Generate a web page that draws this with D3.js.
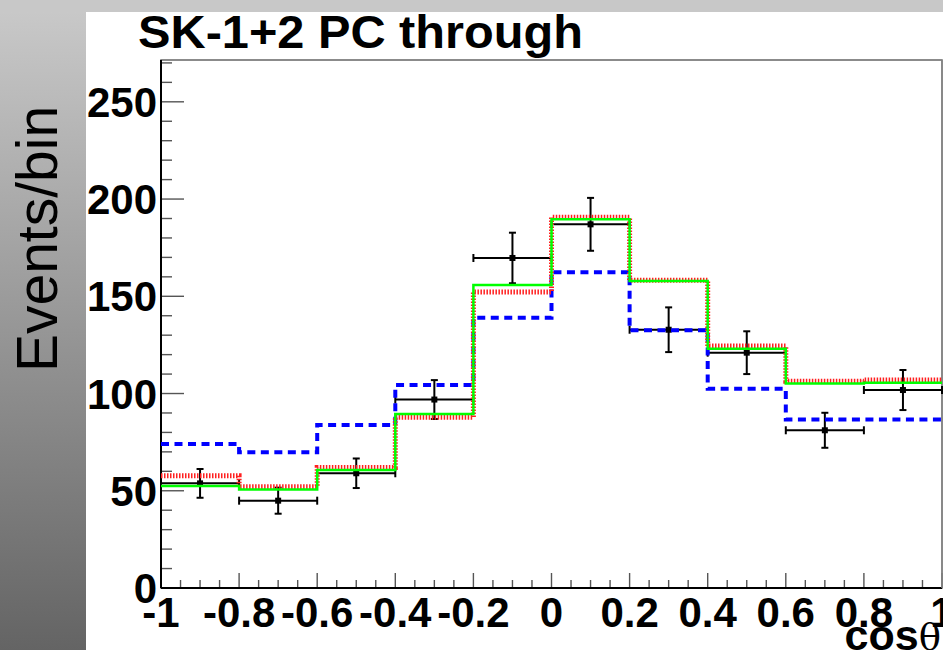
<!DOCTYPE html>
<html><head><meta charset="utf-8">
<script src="https://cdn.jsdelivr.net/npm/d3@7/dist/d3.min.js"></script>
<style>
html,body{margin:0;padding:0;background:#fff;overflow:hidden;}
svg{display:block;}
</style></head>
<body>
<svg id="chart" width="943" height="650"></svg>
<script>
// ---- data ----
const binEdges = [-1, -0.8, -0.6, -0.4, -0.2, 0, 0.2, 0.4, 0.6, 0.8, 1];
const binCenters = [-0.9, -0.7, -0.5, -0.3, -0.1, 0.1, 0.3, 0.5, 0.7, 0.9];
const dataValues = [53.8, 44.9, 59.0, 96.9, 169.7, 187.0, 132.8, 121.0, 81.1, 101.8];
const dataErrors = [7.4, 6.7, 7.6, 10.0, 13.0, 13.6, 11.5, 11.0, 9.0, 10.3];
const redValues = [57.7, 52.1, 62.0, 87.8, 152.2, 190.6, 158.3, 124.4, 106.3, 106.9];
const greenValues = [52.4, 50.7, 60.7, 89.5, 155.8, 189.6, 157.8, 123.0, 105.2, 105.6];
const blueValues = [74.0, 69.8, 83.8, 104.4, 139.0, 162.3, 132.5, 102.5, 86.7, 86.7];
const xTickValues = [-1, -0.8, -0.6, -0.4, -0.2, 0, 0.2, 0.4, 0.6, 0.8, 1];
const xTickLabels = ["-1", "-0.8", "-0.6", "-0.4", "-0.2", "0", "0.2", "0.4", "0.6", "0.8", "1"];
const yTickValues = [0, 50, 100, 150, 200, 250];
const yTickLabels = ["0", "50", "100", "150", "200", "250"];
const titleText = "SK-1+2 PC through";
const yTitle = "Events/bin";

(function () {
// ---- layout ----
const svg = d3.select("#chart");
const W = 943, H = 650;
const pL = 161, pR = 942, pT = 60, pB = 588;
const x = d3.scaleLinear().domain([-1, 1]).range([pL, pR]);
const y = d3.scaleLinear().domain([0, 271.5]).range([pB, pT]);

// background
const defs = svg.append("defs");
const grad = defs.append("linearGradient").attr("id", "bg").attr("x1", 0).attr("y1", 0).attr("x2", 0).attr("y2", 1);
grad.append("stop").attr("offset", "0%").attr("stop-color", "#cacaca");
grad.append("stop").attr("offset", "100%").attr("stop-color", "#646464");
svg.append("rect").attr("x", 0).attr("y", 0).attr("width", W).attr("height", H).attr("fill", "url(#bg)");
svg.append("rect").attr("x", 0).attr("y", 0).attr("width", W).attr("height", 12).attr("fill", "#c8c8c8");
svg.append("rect").attr("x", 86).attr("y", 12).attr("width", W - 86).attr("height", H - 12).attr("fill", "#fff");

// frame
svg.append("rect").attr("x", pL).attr("y", pT).attr("width", pR - pL).attr("height", pB - pT)
  .attr("fill", "none").attr("stroke", "#666").attr("stroke-width", 1.5);

// y ticks
const yMinor = d3.range(0, 271, 10);
svg.append("g").selectAll("line").data(yMinor).join("line")
  .attr("x1", pL).attr("x2", d => pL + (d % 50 === 0 ? 23 : 11))
  .attr("y1", d => y(d)).attr("y2", d => y(d))
  .attr("stroke", "#555").attr("stroke-width", 1.4);
// x ticks
const xMinor = d3.range(0, 41).map(i => -1 + i * 0.05);
svg.append("g").selectAll("line").data(xMinor).join("line")
  .attr("x1", d => x(d)).attr("x2", d => x(d))
  .attr("y1", pB).attr("y2", (d, i) => pB - (i % 4 === 0 ? 15 : 8))
  .attr("stroke", "#555").attr("stroke-width", 1.4);

// axis lines
svg.append("line").attr("x1", pL).attr("x2", pL).attr("y1", pT).attr("y2", pB).attr("stroke", "#000").attr("stroke-width", 2);
svg.append("line").attr("x1", pL).attr("x2", pR).attr("y1", pB).attr("y2", pB).attr("stroke", "#000").attr("stroke-width", 2);
svg.append("line").attr("x1", pR).attr("x2", pR).attr("y1", pT).attr("y2", pB).attr("stroke", "#888").attr("stroke-width", 1.5);

// tick labels
const lblFont = "'Liberation Sans', Arial, Helvetica, sans-serif";
svg.append("g").selectAll("text").data(yTickValues).join("text")
  .attr("x", 157).attr("y", d => y(d) + 15)
  .attr("text-anchor", "end").attr("font-family", lblFont).attr("font-weight", "bold")
  .attr("font-size", 42).attr("fill", "#000").text((d, i) => yTickLabels[i]);
svg.append("g").selectAll("text").data(xTickValues).join("text")
  .attr("x", d => x(d)).attr("y", 627)
  .attr("text-anchor", "middle").attr("font-family", lblFont).attr("font-weight", "bold")
  .attr("font-size", 42).attr("fill", "#000").text((d, i) => xTickLabels[i]);

// titles
svg.append("text").attr("x", 138).attr("y", 48).attr("font-family", lblFont).attr("font-weight", "bold")
  .attr("font-size", 47).attr("textLength", 445).attr("lengthAdjust", "spacingAndGlyphs")
  .attr("fill", "#000").text(titleText);
svg.append("text").attr("transform", "translate(57,239) rotate(-90)").attr("text-anchor", "middle")
  .attr("font-family", lblFont).attr("font-size", 57).attr("fill", "#000").text(yTitle);
const xt = svg.append("text").attr("x", 941).attr("y", 650).attr("text-anchor", "end")
  .attr("font-family", lblFont).attr("font-size", 43).attr("fill", "#000");
xt.append("tspan").attr("font-weight", "bold").text("cos");
xt.append("tspan").attr("font-family", "'DejaVu Serif', serif").attr("font-size", 37).text("θ");

// histograms
function stepPts(vals) {
  const pts = vals.map((v, i) => [binEdges[i], v]);
  pts.push([binEdges[binEdges.length - 1], vals[vals.length - 1]]);
  return pts;
}
const line = d3.line().x(d => x(d[0])).y(d => y(d[1])).curve(d3.curveStepAfter);

const g = svg.append("g");

// data points
const dg = g.append("g").attr("stroke", "#000").attr("stroke-width", 2);
dataValues.forEach((v, i) => {
  const xl = x(binEdges[i]), xr = x(binEdges[i + 1]), xc = x(binCenters[i]);
  const yc = y(v), yt = y(v + dataErrors[i]), yb = y(v - dataErrors[i]);
  dg.append("line").attr("x1", xl).attr("x2", xr).attr("y1", yc).attr("y2", yc);
  dg.append("line").attr("x1", xl).attr("x2", xl).attr("y1", yc - 4).attr("y2", yc + 4);
  dg.append("line").attr("x1", xr).attr("x2", xr).attr("y1", yc - 4).attr("y2", yc + 4);
  dg.append("line").attr("x1", xc).attr("x2", xc).attr("y1", yt).attr("y2", yb);
  dg.append("line").attr("x1", xc - 3.5).attr("x2", xc + 3.5).attr("y1", yt).attr("y2", yt);
  dg.append("line").attr("x1", xc - 3.5).attr("x2", xc + 3.5).attr("y1", yb).attr("y2", yb);
  g.append("rect").attr("x", xc - 3).attr("y", yc - 3).attr("width", 6).attr("height", 6).attr("fill", "#000");
});

g.append("path").attr("d", line(stepPts(blueValues))).attr("fill", "none")
  .attr("stroke", "#0000ff").attr("stroke-width", 4).attr("stroke-dasharray", "8,5.5");
g.append("path").attr("d", line(stepPts(redValues))).attr("fill", "none")
  .attr("stroke", "#ff2020").attr("stroke-width", 5).attr("stroke-dasharray", "1.5,1.5");
g.append("path").attr("d", line(stepPts(greenValues))).attr("fill", "none")
  .attr("stroke", "#00ff00").attr("stroke-width", 2.5);
})();
</script>
</body></html>
